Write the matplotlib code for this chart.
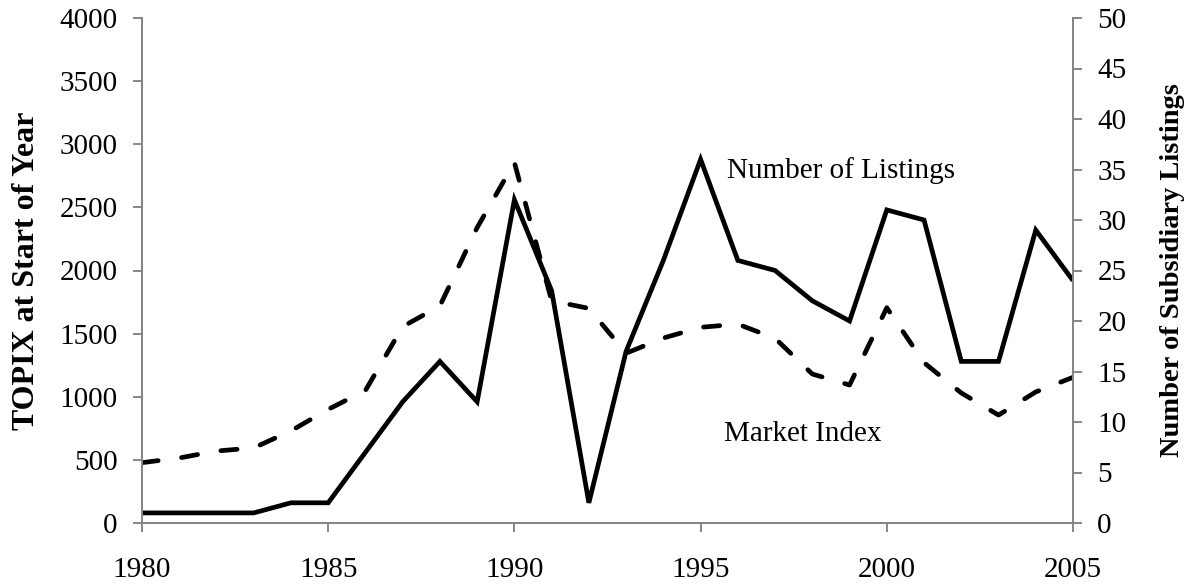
import matplotlib
matplotlib.use("Agg")
import matplotlib.pyplot as plt

years = list(range(1980, 2006))
market_index = [478, 515, 570, 595, 730, 900, 1050, 1555, 1720, 2340, 2855, 1760, 1700, 1345,
                1465, 1550, 1575, 1463, 1180, 1093, 1705, 1270, 1030, 855, 1038, 1154]
listings = [1, 1, 1, 1, 2, 2, 7, 12, 16, 12, 32, 23, 2, 17, 26, 36, 26, 25, 22, 20, 31, 30,
            16, 16, 29, 24]
left_ticks = [0, 500, 1000, 1500, 2000, 2500, 3000, 3500, 4000]
right_ticks = [0, 5, 10, 15, 20, 25, 30, 35, 40, 45, 50]
x_ticks = [1980, 1985, 1990, 1995, 2000, 2005]

plt.rcParams['font.family'] = ['Liberation Serif', 'DejaVu Serif']
gray = '#868686'

fig = plt.figure(figsize=(11.89, 5.84), dpi=100)
ax = fig.add_axes([142/1189, (584-523)/584, (1073-142)/1189, (523-18)/584])
ax2 = ax.twinx()

lw = 3.4
ax.plot(years, market_index, color='black', lw=lw, linestyle=(0, (3.45, 5.0)),
        dash_capstyle='round', dash_joinstyle='round')
ax2.plot(years, listings, color='black', lw=lw, solid_joinstyle='miter',
         solid_capstyle='butt')

ax.set_xlim(1980, 2005)
ax.set_ylim(0, 4000)
ax2.set_ylim(0, 50)
ax.set_xticks(x_ticks)
ax.set_yticks(left_ticks)
ax2.set_yticks(right_ticks)

for a in (ax, ax2):
    a.spines['top'].set_visible(False)
    for s in ('left', 'right', 'bottom'):
        a.spines[s].set_color(gray)
        a.spines[s].set_linewidth(1.4)
    a.tick_params(axis='both', colors=gray, labelcolor='black', labelsize=21,
                  length=6.5, width=1.4, direction='out')
ax.tick_params(axis='x', pad=18)
ax.tick_params(axis='y', pad=11)
ax2.tick_params(axis='y', pad=11)

ax.set_ylabel('TOPIX at Start of Year', fontsize=23, fontweight='bold', labelpad=13)
ax2.set_ylabel('Number of Subsidiary Listings', fontsize=20.5, fontweight='bold', labelpad=24)

ax2.text(1995.72, 34.2, 'Number of Listings', fontsize=21, ha='left', va='baseline')
ax2.text(1995.63, 8.1, 'Market Index', fontsize=21, ha='left', va='baseline')

fig.savefig('out.png', dpi=100)
